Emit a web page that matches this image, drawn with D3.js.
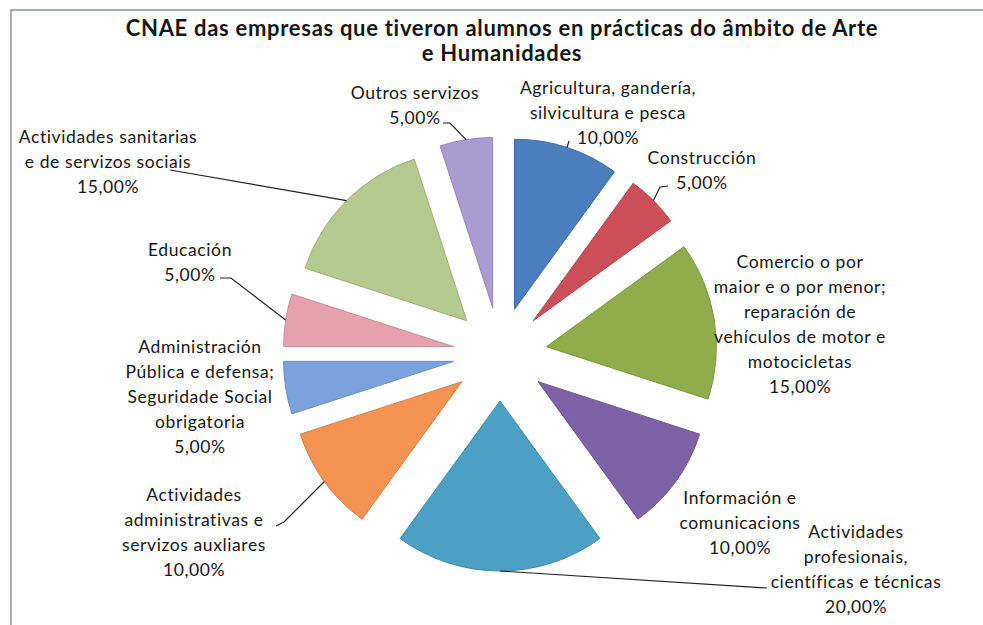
<!DOCTYPE html>
<html>
<head>
<meta charset="utf-8">
<script src="https://cdn.jsdelivr.net/npm/d3@7"></script>
<style>
  body { margin: 0; background: #fff; }
  svg text { font-family: Lato, "Open Sans", sans-serif; fill: #161616; }
</style>
</head>
<body>
<svg id="chart" width="983" height="625"></svg>
<script>
// Data
const categories = [
  'Agricultura, gandería, silvicultura e pesca',
  'Construcción',
  'Comercio o por maior e o por menor; reparación de vehículos de motor e motocicletas',
  'Información e comunicacions',
  'Actividades profesionais, científicas e técnicas',
  'Actividades administrativas e servizos auxliares',
  'Administración Pública e defensa; Seguridade Social obrigatoria',
  'Educación',
  'Actividades sanitarias e de servizos sociais',
  'Outros servizos'
];
const values = [10, 5, 15, 10, 20, 10, 5, 5, 15, 5];
const labelLines = [
  ['Agricultura, gandería,', 'silvicultura e pesca'],
  ['Construcción'],
  ['Comercio o por', 'maior e o por menor;', 'reparación de', 'vehículos de motor e', 'motocicletas'],
  ['Información e', 'comunicacions'],
  ['Actividades', 'profesionais,', 'científicas e técnicas'],
  ['Actividades', 'administrativas e', 'servizos auxliares'],
  ['Administración', 'Pública e defensa;', 'Seguridade Social', 'obrigatoria'],
  ['Educación'],
  ['Actividades sanitarias', 'e de servizos sociais'],
  ['Outros servizos']
];
const colors = ['#4a7ebf', '#cc4e58', '#8fad4b', '#7d62a8', '#4ba0c3',
                '#f49353', '#7aa3dc', '#e5a2ad', '#b4ca8e', '#a99cd2'];

// Layout: label centre x / first line y, and the points a leader runs through
const labelPos = [
  [608, 88], [702, 158], [800, 262], [740, 498], [856, 532],
  [194, 495], [200, 347], [190, 250], [108, 137], [415, 93]
];
const leaderPts = [
  [[569, 141]],
  [[668, 186], [660, 187]],
  null,
  null,
  [[767, 588]],
  [[276, 526], [284, 522]],
  null,
  [[220, 278], [231, 278]],
  [[170, 170]],
  [[443, 123], [450, 123]]
];

const width = 983, height = 625;
const cx = 500, cy = 354, radius = 170, explode = 47;
const lineH = 25;

const svg = d3.select('#chart');
const locale = d3.formatLocale({ decimal: ',', thousands: '.', grouping: [3], currency: ['', ' €'] });
const fmt = locale.format('.2%');

// Frame
svg.append('path')
  .attr('d', `M11,${height} L11,10 L${width},10`)
  .attr('fill', 'none')
  .attr('stroke', '#8e8ea8')
  .attr('stroke-width', 1.5);

// Title
const title = svg.append('text')
  .attr('x', 502)
  .attr('text-anchor', 'middle')
  .style('font-size', '22px')
  .style('letter-spacing', '0.7px')
  .style('font-weight', 'bold');
title.append('tspan').attr('x', 502).attr('y', 36)
  .text('CNAE das empresas que tiveron alumnos en prácticas do âmbito de Arte');
title.append('tspan').attr('x', 502).attr('y', 61)
  .text('e Humanidades');

const pie = d3.pie().sort(null).value(d => d);
const arcs = pie(values);
const arc = d3.arc().innerRadius(0).outerRadius(radius);

const g = svg.append('g').attr('transform', `translate(${cx},${cy})`);

function offset(d) {
  const a = (d.startAngle + d.endAngle) / 2;
  return [Math.sin(a) * explode, -Math.cos(a) * explode];
}

g.selectAll('path.slice')
  .data(arcs)
  .enter().append('path')
  .attr('class', 'slice')
  .attr('d', arc)
  .attr('transform', d => `translate(${offset(d)})`)
  .attr('fill', (d, i) => colors[i])
  .attr('stroke', (d, i) => d3.color(colors[i]).darker(0.4))
  .attr('stroke-width', 1);

// Leader lines: from the outer arc at the slice mid-angle to the label
arcs.forEach((d, i) => {
  if (!leaderPts[i]) return;
  const a = (d.startAngle + d.endAngle) / 2;
  const [ox, oy] = offset(d);
  const start = [cx + ox + Math.sin(a) * radius, cy + oy - Math.cos(a) * radius];
  const pts = [start].concat(leaderPts[i].slice().reverse());
  svg.append('path')
    .attr('d', d3.line()(pts))
    .attr('fill', 'none')
    .attr('stroke', '#222')
    .attr('stroke-width', 1.2);
});

// Labels
arcs.forEach((d, i) => {
  const [x, y] = labelPos[i];
  const lines = labelLines[i].concat([fmt(values[i] / 100)]);
  const t = svg.append('text')
    .attr('text-anchor', 'middle')
    .style('font-size', '17.5px')
    .style('letter-spacing', '0.6px');
  lines.forEach((s, k) => {
    t.append('tspan')
      .attr('x', x)
      .attr('y', y + k * lineH + 6)
      .text(s);
  });
});
</script>
</body>
</html>
